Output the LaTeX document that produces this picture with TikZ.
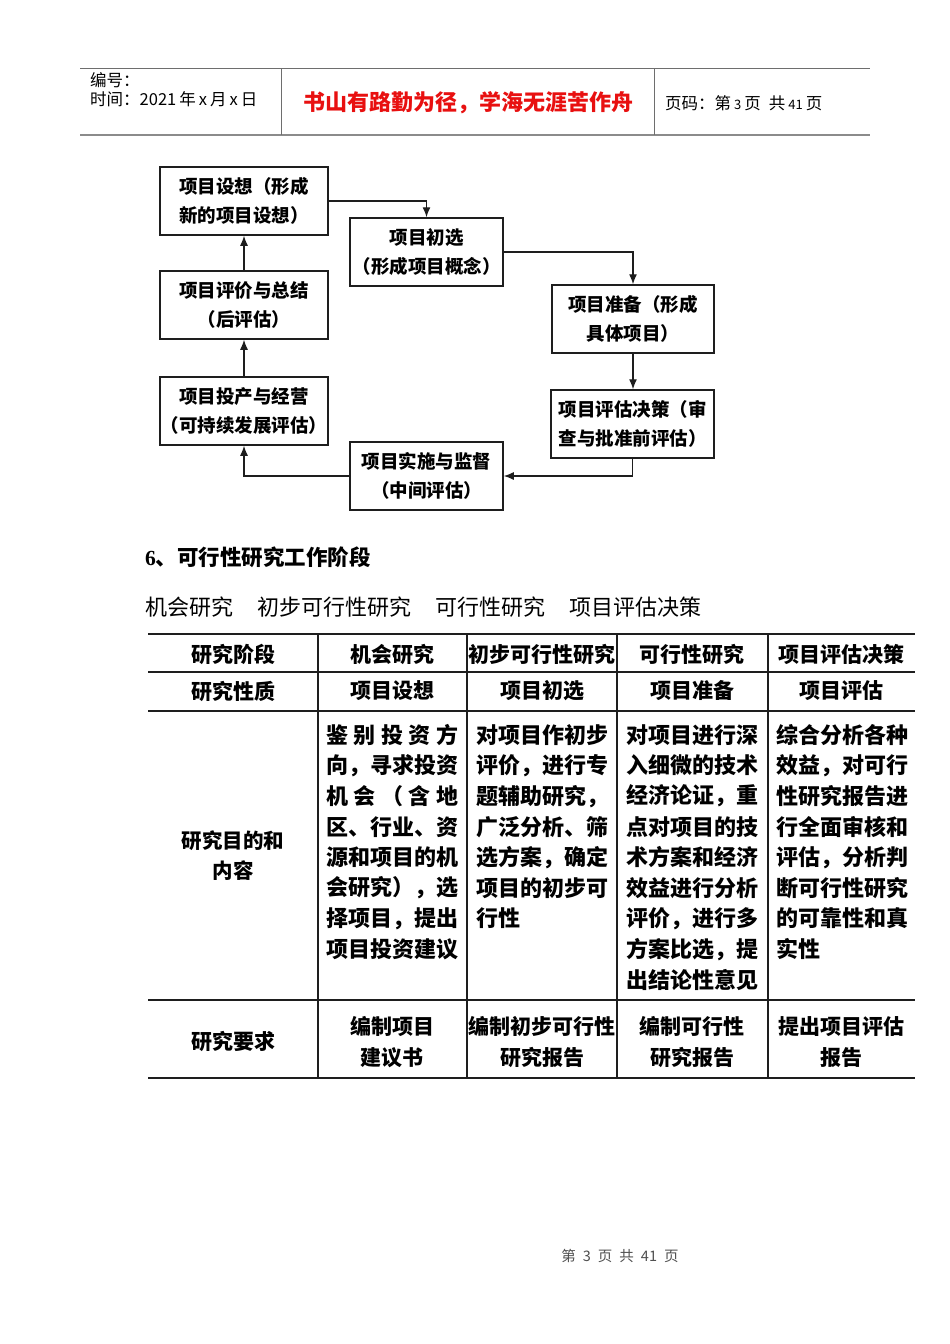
\documentclass[tikz,border=0pt]{standalone}
\usepackage{fontspec}
\setmainfont{Noto Sans CJK SC}
\newfontfamily\numfont{Liberation Serif}
\usetikzlibrary{arrows.meta,positioning}
\usepackage{xcolor}
\definecolor{Ink}{RGB}{30,30,30}
\definecolor{RuleGray}{RGB}{110,110,110}
\definecolor{Motto}{RGB}{232,16,16}
\definecolor{FootGray}{RGB}{80,80,80}
\tikzset{
  stage/.style={rectangle,draw=Ink,line width=1.5pt,fill=white,
                font=\fontsize{18.5}{29}\selectfont\bfseries,align=center,
                minimum width=168pt,minimum height=68pt,inner xsep=0pt},
  flow/.style={-{Latex[length=10pt,width=8pt]},Ink,line width=1.3pt},
  hrule/.style={RuleGray,line width=1pt},
  hdtext/.style={anchor=west,inner sep=0pt,font=\fontsize{16.5}{18}\selectfont},
  trule/.style={Ink,line width=1.4pt},
  tcell/.style={inner sep=0pt,align=center,font=\fontsize{21}{31}\selectfont\bfseries},
  tline/.style={anchor=west,inner sep=0pt,font=\fontsize{22}{24}\selectfont\bfseries},
}

\begin{document}
\begin{tikzpicture}[x=1pt,y=-1pt]
  \useasboundingbox[fill=white] (0,0) rectangle (950,1344);

  % page header
  \draw[hrule] (80,68) -- (870,68);
  \draw[RuleGray!80,line width=2.5pt] (80,135) -- (870,135);
  \draw[hrule] (281,68) -- (281,135) (654,68) -- (654,135);
  \node[hdtext] (serial) at (90,80) {编号：};
  \node[hdtext] (date) at (90,99) {时间：2021\hspace{3pt}年\hspace{3pt}x\hspace{3pt}月\hspace{3pt}x\hspace{3pt}日};
  \node[inner sep=0pt,text=Motto,font=\fontsize{22}{24}\selectfont\bfseries] (motto) at (468,103)
    {书山有路勤为径，学海无涯苦作舟};
  \node[hdtext] (pageno) at (665,103)
    {页码：第\hspace{3pt}{\fontsize{13}{14}\selectfont 3}\hspace{3pt}页\hspace{8pt}共\hspace{3pt}{\fontsize{13}{14}\selectfont 41}\hspace{3pt}页};

  % project cycle
  \node[stage] (idea) at (244,201) {项目设想（形成\\新的项目设想）};
  \node[stage,minimum width=153pt] (screen) at (426.5,252) {项目初选\\（形成项目概念）};
  \node[stage,minimum width=162pt] (prep) at (633,319) {项目准备（形成\\具体项目）};
  \node[stage,minimum width=163pt] (appraise) at (632.5,424) {项目评估决策（审\\查与批准前评估）};
  \node[stage,minimum width=153pt] (implement) at (426.5,476) {项目实施与监督\\（中间评估）};
  \node[stage] (operate) at (244,411) {项目投产与经营\\（可持续发展评估）};
  \node[stage] (review) at (244,305) {项目评价与总结\\（后评估）};

  \draw[flow] (idea.east) -| (screen.north);
  \draw[flow] (screen.east) -| (prep.north);
  \draw[flow] (prep.south) -- (prep.south |- appraise.north);
  \draw[flow] (appraise.south) |- (implement.east);
  \draw[flow] (implement.west) -| (operate.south);
  \draw[flow] (operate) -- (review);
  \draw[flow] (review) -- (idea);

  % section text
  \node[anchor=west,inner sep=0pt,font=\fontsize{21.5}{24}\selectfont\bfseries] (title) at (145,557)
    {{\numfont 6}、可行性研究工作阶段};
  \node[anchor=west,inner sep=0pt,font=\fontsize{22}{24}\selectfont] (phases) at (145,607)
    {机会研究\hspace{24pt}初步可行性研究\hspace{24pt}可行性研究\hspace{24pt}项目评估决策};

  % table rules
  \foreach \y in {634,672,711,1000,1078}
    \draw[trule] (148,\y) -- (915,\y);
  \foreach \x in {318,467,617,768}
    \draw[trule] (\x,634) -- (\x,1078);

  % header rows
  \node[tcell] (h0) at (233,654) {研究阶段};
  \node[tcell] (h1) at (392,654) {机会研究};
  \node[tcell] (h2) at (542,654) {初步可行性研究};
  \node[tcell] (h3) at (692,654) {可行性研究};
  \node[tcell] (h4) at (841,654) {项目评估决策};
  \node[tcell] (n0) at (233,691) {研究性质};
  \node[tcell] (n1) at (392,691) {项目设想};
  \node[tcell] (n2) at (542,691) {项目初选};
  \node[tcell] (n3) at (692,691) {项目准备};
  \node[tcell] (n4) at (841,691) {项目评估};

  % purpose row
  \node[tcell,font=\fontsize{20.5}{30}\selectfont\bfseries] (p0) at (233,856) {研究目的和\\内容};
  \foreach \t [count=\i from 0] in {{\makebox[132pt][s]{鉴\hfill 别\hfill 投\hfill 资\hfill 方}},
      向，寻求投资,{\makebox[132pt][s]{机\hfill 会\hfill （\hfill 含\hfill 地}},区、行业、资,
      源和项目的机,会研究），选,择项目，提出,项目投资建议}
    \node[tline] (pa\i) at (326,735+30.6*\i) {\t};
  \foreach \t [count=\i from 0] in {对项目作初步,评价，进行专,题辅助研究，,广泛分析、筛,
      选方案，确定,项目的初步可,行性}
    \node[tline] (pb\i) at (476,735+30.6*\i) {\t};
  \foreach \t [count=\i from 0] in {对项目进行深,入细微的技术,经济论证，重,点对项目的技,
      术方案和经济,效益进行分析,评价，进行多,方案比选，提,出结论性意见}
    \node[tline] (pc\i) at (626,735+30.6*\i) {\t};
  \foreach \t [count=\i from 0] in {综合分析各种,效益，对可行,性研究报告进,行全面审核和,
      评估，分析判,断可行性研究,的可靠性和真,实性}
    \node[tline] (pd\i) at (776,735+30.6*\i) {\t};

  % requirement row
  \node[tcell] (r0) at (233,1041) {研究要求};
  \node[tcell] (r1) at (392,1042.5) {编制项目\\建议书};
  \node[tcell] (r2) at (542,1042.5) {编制初步可行性\\研究报告};
  \node[tcell] (r3) at (692,1042.5) {编制可行性\\研究报告};
  \node[tcell] (r4) at (841,1042.5) {提出项目评估\\报告};

  % page footer
  \node[inner sep=0pt,text=FootGray,font=\fontsize{14.5}{16}\selectfont] (footer) at (620,1256)
    {第\hspace{7pt}3\hspace{7pt}页\hspace{7pt}共\hspace{7pt}41\hspace{7pt}页};
\end{tikzpicture}
\end{document}
